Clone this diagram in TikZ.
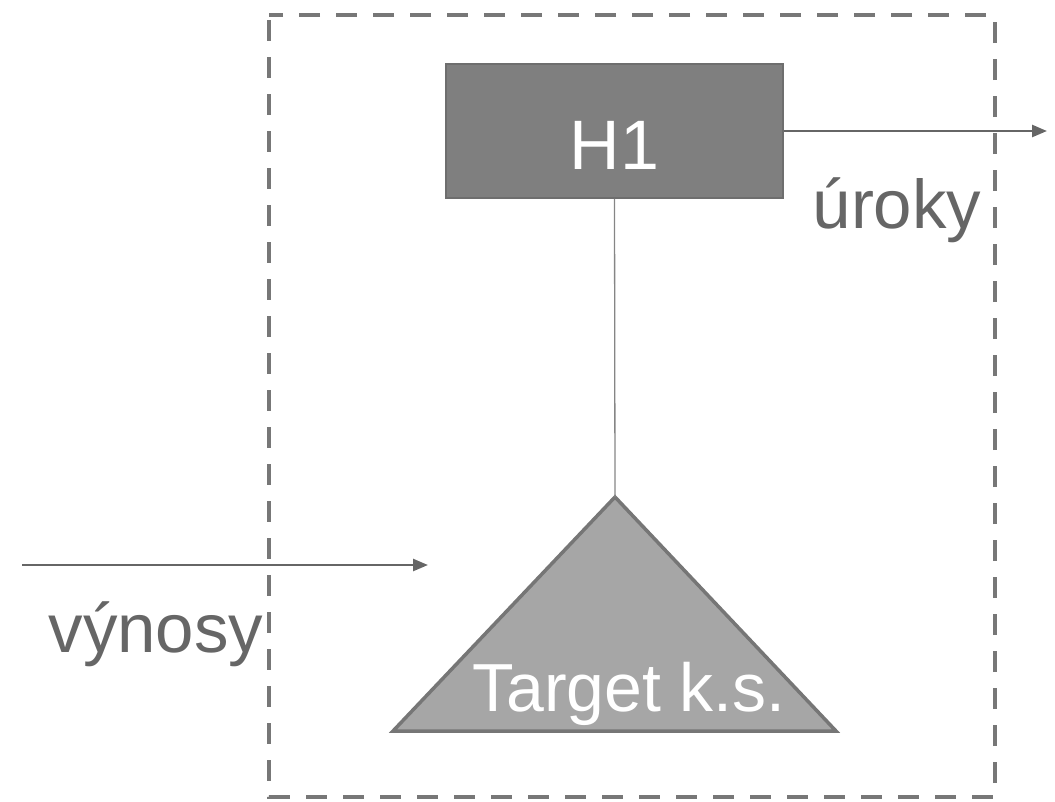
\documentclass[tikz,border=0pt]{standalone}
\usepackage{fontspec}
\setmainfont{Liberation Sans}
\usetikzlibrary{arrows.meta}
\definecolor{boxgray}{HTML}{7F7F7F}
\definecolor{boxedge}{HTML}{6E6E6E}
\definecolor{trigray}{HTML}{A6A6A6}
\definecolor{triedge}{HTML}{767676}
\definecolor{linegray}{HTML}{666666}
\definecolor{dashgray}{HTML}{777777}
\definecolor{textgray}{HTML}{666666}
\tikzset{
  dashbox/.style={draw=dashgray, line width=4pt, dash pattern=on 21pt off 16pt, dash phase=-5pt},
  hbox/.style={draw=boxedge, fill=boxgray, line width=1.5pt, minimum width=337pt, minimum height=134pt, inner sep=0pt},
  trishape/.style={draw=triedge, fill=trigray, line width=3.5pt, line join=miter},
  whitetext/.style={text=white, font=\fontsize{68}{80}\selectfont, inner sep=0pt, anchor=base},
  graytext/.style={text=textgray, font=\fontsize{69}{80}\selectfont, inner sep=0pt, anchor=base},
  flow/.style={draw=linegray, line width=2.5pt, -{Triangle[length=15pt,width=12pt]}},
  link/.style={draw=linegray!80, line width=1.3pt}
}
\begin{document}
\begin{tikzpicture}[x=1pt,y=-1pt]
\useasboundingbox (0,0) rectangle (1055,801);
\draw[dashbox] (269,15) rectangle (995,797);
\node[hbox] (h1) at (614.5,131) {};
\node[whitetext, font=\fontsize{70}{80}\selectfont] (h1text) at (614.5,169) {H1};
\coordinate (tapex) at (615,497);
\coordinate (tleft) at (393,731);
\coordinate (tright) at (836,731);
\draw[trishape] (tapex) -- (tleft) -- (tright) -- cycle;
\node[whitetext] (target) at (629,711) {Target k.s.};
\draw[link] (h1.south) -- (tapex);
\coordinate (outend) at (1047,131);
\draw[flow] (h1.east) -- (outend);
\node[graytext] (uroky) at (897,228) {úroky};
\coordinate (instart) at (22,565);
\coordinate (inend) at (428,565);
\draw[flow] (instart) -- (inend);
\node[graytext] (vynosy) at (156,652) {výnosy};
\end{tikzpicture}
\end{document}
